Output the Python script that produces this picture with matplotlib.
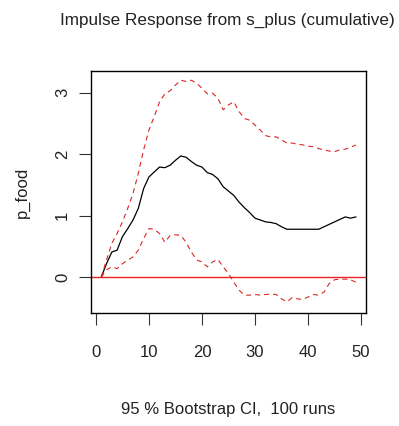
import matplotlib
matplotlib.use("Agg")
import matplotlib.pyplot as plt
import numpy as np

plt.rcParams['font.family'] = ['Liberation Sans', 'DejaVu Sans']
plt.rcParams['lines.scale_dashes'] = False

# horizon steps
steps = list(range(1, 50))

# cumulative impulse response of p_food
irf = [0.00, 0.22, 0.41, 0.44, 0.66, 0.79, 0.93, 1.12, 1.44, 1.63,
       1.71, 1.79, 1.78, 1.82, 1.90, 1.97, 1.95, 1.88, 1.82, 1.79,
       1.70, 1.67, 1.60, 1.47, 1.40, 1.33, 1.22, 1.13, 1.05, 0.96,
       0.93, 0.90, 0.89, 0.87, 0.82, 0.78, 0.78, 0.78, 0.78, 0.78,
       0.78, 0.78, 0.82, 0.86, 0.90, 0.94, 0.98, 0.96, 0.98]

# upper bootstrap band
upper = [0.00, 0.28, 0.55, 0.71, 0.90, 1.12, 1.36, 1.69, 2.07, 2.39,
         2.61, 2.85, 2.98, 3.03, 3.12, 3.20, 3.18, 3.20, 3.15, 3.07,
         2.98, 2.99, 2.91, 2.72, 2.80, 2.85, 2.69, 2.58, 2.55, 2.47,
         2.39, 2.30, 2.28, 2.28, 2.23, 2.18, 2.18, 2.16, 2.15, 2.13,
         2.12, 2.09, 2.07, 2.05, 2.04, 2.07, 2.08, 2.11, 2.15]

# lower bootstrap band
lower = [0.00, 0.12, 0.17, 0.14, 0.22, 0.28, 0.33, 0.44, 0.63, 0.79,
         0.78, 0.71, 0.57, 0.68, 0.69, 0.68, 0.57, 0.41, 0.28, 0.25,
         0.17, 0.25, 0.29, 0.17, 0.06, -0.08, -0.21, -0.29, -0.29, -0.28,
         -0.29, -0.28, -0.27, -0.28, -0.35, -0.40, -0.33, -0.35, -0.36, -0.32,
         -0.28, -0.29, -0.24, -0.10, -0.04, -0.03, -0.03, -0.04, -0.08]

xticks = [0, 10, 20, 30, 40, 50]
yticks = [0, 1, 2, 3]

fig = plt.figure(figsize=(3.99, 4.26), dpi=100)
ax = fig.add_axes([91 / 399, 1 - 313 / 426, (366 - 91) / 399, (313 - 71) / 426])

ax.plot(steps, irf, color='black', linewidth=0.9)
ax.plot(steps, upper, color='#d82828', linewidth=0.8, dashes=(3.6, 2.9))
ax.plot(steps, lower, color='#d82828', linewidth=0.8, dashes=(3.6, 2.9))
ax.axhline(0, color='#ee2020', linewidth=1.0)

ax.set_xlim(-0.92, 50.92)
ax.set_ylim(-0.58, 3.35)
ax.set_xticks(xticks)
ax.set_yticks(yticks)
ax.tick_params(length=8.5, width=0.8, labelsize=12, color='#333333',
               labelcolor='#222222')
ax.tick_params(axis='x', pad=14.5)
ax.tick_params(axis='y', pad=6.7)
for lab in ax.get_yticklabels():
    lab.set_rotation(90)
    lab.set_va('center')
    lab.set_ha('right')
for s in ax.spines.values():
    s.set_linewidth(1.0)

ax.set_ylabel('p_food', fontsize=12, labelpad=18, color='#222222')
ax.set_xlabel('95 % Bootstrap CI,  100 runs', fontsize=12, labelpad=30,
              color='#222222')
fig.text(0.57, 1 - 20 / 426, 'Impulse Response from s_plus (cumulative)',
         ha='center', va='center', fontsize=12.3, color='#222222')

fig.savefig('out.png', dpi=100)
